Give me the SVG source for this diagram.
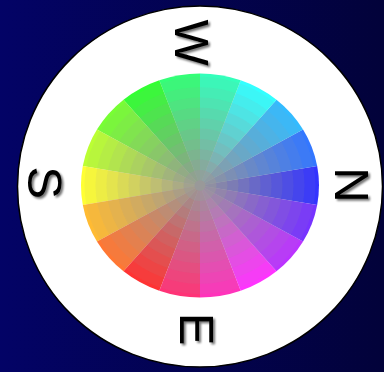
<svg xmlns="http://www.w3.org/2000/svg" width="384" height="372" viewBox="0 0 384 372">
  <defs>
    <linearGradient id="bg" x1="0" y1="0" x2="1" y2="0">
      <stop offset="0" stop-color="#030366"/>
      <stop offset="1" stop-color="#02023a"/>
    </linearGradient>
    <filter id="shadow" x="-20%" y="-20%" width="140%" height="140%">
      <feGaussianBlur in="SourceAlpha" stdDeviation="1.3" result="b"/>
      <feOffset in="b" dx="2" dy="2" result="o"/>
      <feComponentTransfer in="o" result="s">
        <feFuncA type="linear" slope="0.55"/>
      </feComponentTransfer>
      <feMerge>
        <feMergeNode in="s"/>
        <feMergeNode in="SourceGraphic"/>
      </feMerge>
    </filter>
  </defs>
  <style>
    .lbl { font-family: "Liberation Sans", Arial, sans-serif; font-size: 49px; fill: #000; text-anchor: middle; }
    .ring { fill: #999999; }
  </style>
  <rect x="0" y="0" width="384" height="372" fill="url(#bg)"/>
  <g id="dial">
    <ellipse cx="200" cy="186.5" rx="182.5" ry="180.5" fill="#fff" stroke="#000" stroke-width="1.5"/>
  </g>
  <g id="wheel">
    <path d="M200 185.5L317.19 204.95A119 112 0 0 0 317.19 166.05Z" fill="#3333ff"/>
    <path d="M200 185.5L317.19 166.05A119 112 0 0 0 303.06 129.5Z" fill="#3377ff"/>
    <path d="M200 185.5L303.06 129.5A119 112 0 0 0 276.49 99.7Z" fill="#33bbff"/>
    <path d="M200 185.5L276.49 99.7A119 112 0 0 0 240.7 80.25Z" fill="#33ffff"/>
    <path d="M200 185.5L240.7 80.25A119 112 0 0 0 200 73.5Z" fill="#33ffbb"/>
    <path d="M200 185.5L200 73.5A119 112 0 0 0 159.3 80.25Z" fill="#33ff77"/>
    <path d="M200 185.5L159.3 80.25A119 112 0 0 0 123.51 99.7Z" fill="#33ff33"/>
    <path d="M200 185.5L123.51 99.7A119 112 0 0 0 96.94 129.5Z" fill="#77ff33"/>
    <path d="M200 185.5L96.94 129.5A119 112 0 0 0 82.81 166.05Z" fill="#bbff33"/>
    <path d="M200 185.5L82.81 166.05A119 112 0 0 0 82.81 204.95Z" fill="#ffff33"/>
    <path d="M200 185.5L82.81 204.95A119 112 0 0 0 96.94 241.5Z" fill="#ffbb33"/>
    <path d="M200 185.5L96.94 241.5A119 112 0 0 0 123.51 271.3Z" fill="#ff7733"/>
    <path d="M200 185.5L123.51 271.3A119 112 0 0 0 159.3 290.75Z" fill="#ff3333"/>
    <path d="M200 185.5L159.3 290.75A119 112 0 0 0 200 297.5Z" fill="#ff3377"/>
    <path d="M200 185.5L200 297.5A119 112 0 0 0 240.7 290.75Z" fill="#ff33bb"/>
    <path d="M200 185.5L240.7 290.75A119 112 0 0 0 276.49 271.3Z" fill="#ff33ff"/>
    <path d="M200 185.5L276.49 271.3A119 112 0 0 0 303.06 241.5Z" fill="#bb33ff"/>
    <path d="M200 185.5L303.06 241.5A119 112 0 0 0 317.19 204.95Z" fill="#7733ff"/>
    <ellipse class="ring" cx="200" cy="185.5" rx="115.5" ry="108.7" fill-opacity="0.0909"/>
    <ellipse class="ring" cx="200" cy="185.5" rx="104.5" ry="98.35" fill-opacity="0.1"/>
    <ellipse class="ring" cx="200" cy="185.5" rx="93.5" ry="88" fill-opacity="0.1111"/>
    <ellipse class="ring" cx="200" cy="185.5" rx="82.5" ry="77.65" fill-opacity="0.125"/>
    <ellipse class="ring" cx="200" cy="185.5" rx="71.5" ry="67.3" fill-opacity="0.1429"/>
    <ellipse class="ring" cx="200" cy="185.5" rx="60.5" ry="56.94" fill-opacity="0.1667"/>
    <ellipse class="ring" cx="200" cy="185.5" rx="49.5" ry="46.59" fill-opacity="0.2"/>
    <ellipse class="ring" cx="200" cy="185.5" rx="38.5" ry="36.24" fill-opacity="0.25"/>
    <ellipse class="ring" cx="200" cy="185.5" rx="27.5" ry="25.88" fill-opacity="0.3333"/>
    <ellipse class="ring" cx="200" cy="185.5" rx="16.5" ry="15.53" fill-opacity="0.5"/>
    <ellipse class="ring" cx="200" cy="185.5" rx="5.5" ry="5.18" fill-opacity="1"/>
  </g>
  <g id="labels" filter="url(#shadow)">
    <text id="label-w" class="lbl" transform="translate(175 42.5) rotate(90)">W</text>
    <text id="label-n" class="lbl" transform="translate(335 185) rotate(90)">N</text>
    <text id="label-s" class="lbl" transform="translate(27.5 182.5) rotate(90)">S</text>
    <text id="label-e" class="lbl" transform="translate(180 329) rotate(90)">E</text>
  </g>
</svg>
